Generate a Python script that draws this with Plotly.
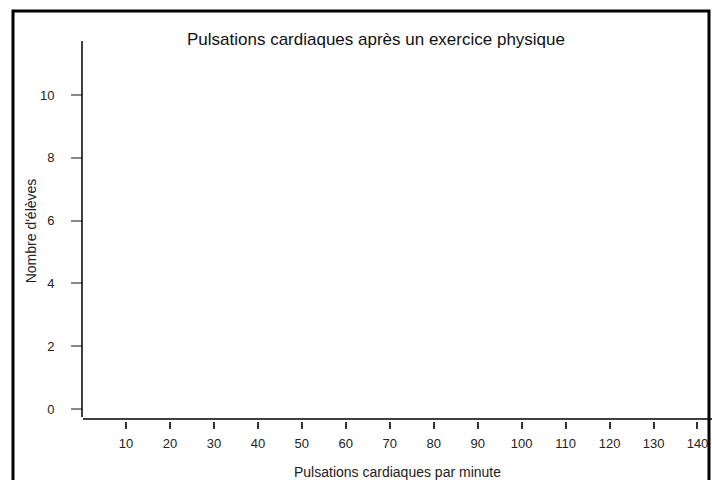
import plotly.graph_objects as go

# Data (the reference histogram shows no bars)
pulsations = []  # observed heart rates: none drawn in the reference
x_ticks = [10, 20, 30, 40, 50, 60, 70, 80, 90, 100, 110, 120, 130, 140]
y_ticks = [0, 2, 4, 6, 8, 10]

title_text = "Pulsations cardiaques après un exercice physique"
x_title = "Pulsations cardiaques par minute"
y_title = "Nombre d'élèves"

W, H = 712, 480
L, R, T, B = 83, 712, 41, 421


def px(x):
    return (x - L) / (R - L)


def py(y):
    return (B - y) / (B - T)


FONT = "Liberation Sans, Arial, Helvetica, sans-serif"

fig = go.Figure()
fig.add_trace(go.Histogram(x=pulsations, marker_color="#bbbbbb", showlegend=False))

fig.update_layout(
    width=W, height=H,
    margin=dict(l=L, r=W - R, t=T, b=H - B, autoexpand=False),
    paper_bgcolor="white", plot_bgcolor="white",
    font=dict(family=FONT, size=13, color="#222222"),
    title=dict(text=title_text, x=376 / W, xref="container", xanchor="center",
               y=1 - 39 / H, yref="container", yanchor="middle",
               font=dict(size=17, color="#111111")),
    showlegend=False,
)

fig.update_xaxes(
    range=[0.22, 143.3], tickvals=x_ticks, ticktext=[str(v) for v in x_ticks],
    showgrid=False, zeroline=False, showline=False,
    ticks="outside", ticklen=7, tickwidth=1.5, tickcolor="#333333",
    ticklabelstandoff=3,
    tickfont=dict(size=13, color="#222222"),
    title=dict(text=x_title, font=dict(size=14, color="#222222"), standoff=17),
    fixedrange=True,
)
fig.update_yaxes(
    range=[-0.38, 11.72], tickvals=y_ticks, ticktext=[str(v) for v in y_ticks],
    showgrid=False, zeroline=False, showline=False,
    ticks="outside", ticklen=11, tickwidth=1.5, tickcolor="#888888",
    ticklabelstandoff=14,
    tickfont=dict(size=13, color="#222222"),
    title=dict(text=y_title, font=dict(size=14, color="#222222"), standoff=0),
    fixedrange=True,
)

# axis lines (drawn slightly detached, as in the reference)
fig.add_shape(type="line", xref="paper", yref="paper",
              x0=px(82), x1=px(82), y0=py(417), y1=1,
              line=dict(color="black", width=1.5))
fig.add_shape(type="line", xref="paper", yref="paper",
              x0=0, x1=1, y0=py(419), y1=py(419),
              line=dict(color="black", width=1.5))
# outer frame
fig.add_shape(type="rect", xref="paper", yref="paper",
              x0=px(13), x1=px(709), y0=py(490), y1=py(11),
              line=dict(color="black", width=3), fillcolor="rgba(0,0,0,0)")

fig.write_html("out.html",
               config={"displayModeBar": False},
               post_script="document.body.style.margin='0';document.body.style.overflow='hidden';")
